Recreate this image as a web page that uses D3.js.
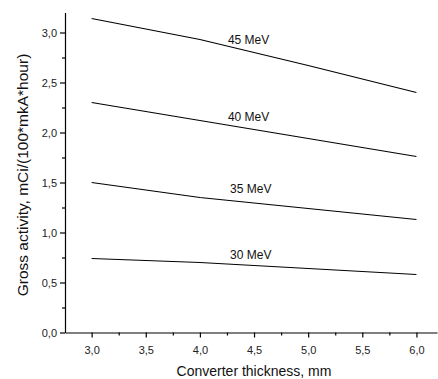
<!DOCTYPE html>
<html>
<head>
<meta charset="utf-8">
<script src="https://cdn.jsdelivr.net/npm/d3@7"></script>
<style>
  body { margin: 0; background: #fff; }
  svg { display: block; font-family: Arial, "Liberation Sans", sans-serif; }
</style>
</head>
<body>
<svg id="chart" width="438" height="379"></svg>
<script>
const thickness = [3.0, 4.0, 5.0, 6.0];
const mev45 = [3.14, 2.93, 2.67, 2.40];
const mev40 = [2.30, 2.12, 1.94, 1.76];
const mev35 = [1.50, 1.35, 1.24, 1.13];
const mev30 = [0.74, 0.70, 0.64, 0.58];
const seriesNames = ["45 MeV", "40 MeV", "35 MeV", "30 MeV"];
const xTicks = [3.0, 3.5, 4.0, 4.5, 5.0, 5.5, 6.0];
const yTicks = [0.0, 0.5, 1.0, 1.5, 2.0, 2.5, 3.0];

const series = [mev45, mev40, mev35, mev30];
// label position (x value, value)
const labelAt = [[4.45, 2.89], [4.45, 2.12], [4.47, 1.40], [4.47, 0.74]];

const svg = d3.select("#chart");
const fmt = (d) => d.toFixed(1).replace(".", ",");

const x = d3.scaleLinear().domain([2.754, 6.19]).range([65, 437]);
const y = d3.scaleLinear().domain([0, 3.2]).range([332.5, 12.5]);

const xAxis = svg.append("g").attr("transform", "translate(0,332.5)");
xAxis.call(d3.axisBottom(x).tickValues(xTicks).tickFormat(fmt).tickSize(5).tickSizeOuter(0));
xAxis.append("g").call(
  d3.axisBottom(x).tickValues(d3.range(3.25, 6.1, 0.5)).tickFormat("").tickSize(3).tickSizeOuter(0)
).select(".domain").remove();

const yAxis = svg.append("g").attr("transform", "translate(65,0)");
yAxis.call(d3.axisLeft(y).tickValues(yTicks).tickFormat(fmt).tickSize(5).tickSizeOuter(0));
yAxis.append("g").call(
  d3.axisLeft(y).tickValues(d3.range(0.25, 3.2, 0.5)).tickFormat("").tickSize(3).tickSizeOuter(0)
).select(".domain").remove();

svg.selectAll(".domain, .tick line").attr("stroke", "#000").attr("stroke-width", 1.2);
svg.selectAll(".tick text").attr("font-size", 11).attr("fill", "#222")
  .attr("font-family", "Arial, 'Liberation Sans', sans-serif");
xAxis.selectAll(".tick text").attr("dy", "1.2em");
yAxis.selectAll(".tick text").attr("x", -8);

const line = d3.line().x((d, i) => x(thickness[i])).y((d) => y(d));

svg.selectAll(".series")
  .data(series)
  .enter()
  .append("path")
  .attr("class", "series")
  .attr("d", line)
  .attr("fill", "none")
  .attr("stroke", "#000")
  .attr("stroke-width", 1.1);

svg.selectAll(".lbl")
  .data(seriesNames)
  .enter()
  .append("text")
  .attr("class", "lbl")
  .attr("x", (d, i) => x(labelAt[i][0]))
  .attr("y", (d, i) => y(labelAt[i][1]))
  .attr("text-anchor", "middle")
  .attr("font-size", 12)
  .attr("fill", "#111")
  .text((d) => d);

svg.append("text")
  .attr("x", 254)
  .attr("y", 376)
  .attr("text-anchor", "middle")
  .attr("font-size", 14)
  .attr("fill", "#111")
  .text("Converter thickness, mm");

svg.append("text")
  .attr("transform", "translate(28,175) rotate(-90)")
  .attr("text-anchor", "middle")
  .attr("font-size", 15.5)
  .attr("fill", "#111")
  .text("Gross activity, mCi/(100*mkA*hour)");
</script>
</body>
</html>
